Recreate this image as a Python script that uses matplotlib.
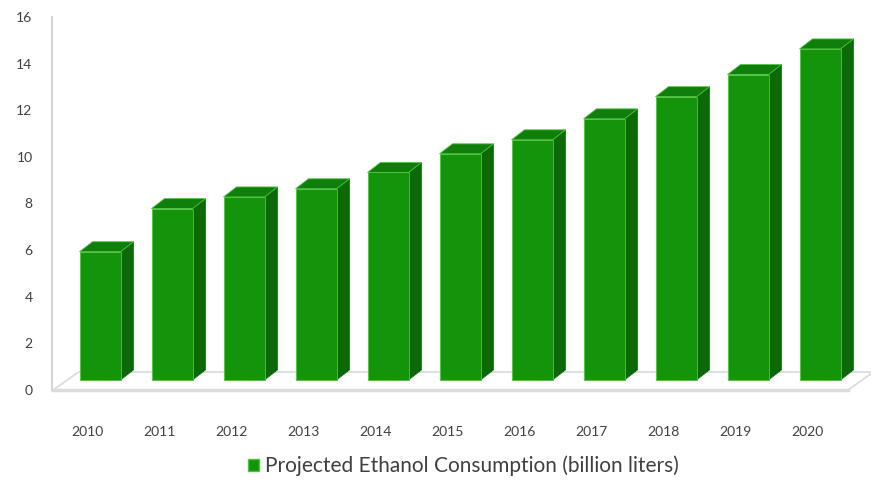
import matplotlib.pyplot as plt
from matplotlib.patches import Polygon, Patch

years = ['2010', '2011', '2012', '2013', '2014', '2015',
         '2016', '2017', '2018', '2019', '2020']
consumption = [5.5, 7.35, 7.85, 8.2, 8.9, 9.7, 10.3, 11.2, 12.15, 13.1, 14.2]
label = 'Projected Ethanol Consumption (billion liters)'

front_c = '#14940b'
side_c = '#0b6a06'
top_c = '#0f7e0a'
edge_c = '#4fc43f'
text_c = '#404040'

fig = plt.figure(figsize=(8.71, 4.9), dpi=100)
ax = fig.add_axes([52 / 871, 100 / 490, 819 / 871, 373 / 490])
ax.set_xlim(-0.667, 10.708)
ax.set_ylim(0, 16)

# fake 3d depth in data units
dx, dy = 0.18, 0.43
w = 0.57
base = 0.43

# floor slab
fx0, fx1 = -0.65, 10.39
fdx, fdy = 0.35, 0.77
floor = Polygon([(fx0, 0), (fx1, 0), (fx1 + fdx, fdy), (fx0 + fdx, fdy)],
                closed=True, facecolor='white', edgecolor='#d9d9d9',
                linewidth=1.2, clip_on=False, zorder=1)
ax.add_patch(floor)
ax.plot([fx0, fx1], [0, 0], color='#dcdcdc', lw=2.5, clip_on=False, zorder=1.5)

for i, v in enumerate(consumption):
    x0 = i - w / 2
    x1 = i + w / 2
    top = base + v
    side = Polygon([(x1, base), (x1 + dx, base + dy), (x1 + dx, top + dy), (x1, top)],
                   closed=True, facecolor=side_c, edgecolor=side_c, lw=0.5, zorder=3)
    lid = Polygon([(x0, top), (x0 + dx, top + dy), (x1 + dx, top + dy), (x1, top)],
                  closed=True, facecolor=top_c, edgecolor=edge_c, lw=0.6, zorder=3)
    ax.add_patch(side)
    ax.add_patch(lid)
    ax.bar(i, v, width=w, bottom=base, color=front_c, edgecolor=edge_c,
           linewidth=0.6, zorder=4)

ax.set_yticks(range(0, 17, 2))
ax.set_xticks([i - 0.17 for i in range(len(years))])
ax.set_xticklabels(years)
ax.tick_params(axis='both', length=0, labelsize=10, labelcolor=text_c,
               labelfontfamily='Lato')
ax.tick_params(axis='y', pad=14)
ax.tick_params(axis='x', pad=26)

for s in ['top', 'right', 'bottom']:
    ax.spines[s].set_visible(False)
ax.spines['left'].set_color('#d6d6d6')
ax.spines['left'].set_linewidth(1.5)

fig.legend(handles=[Patch(facecolor=front_c, edgecolor=edge_c, label=label)],
           loc='center', bbox_to_anchor=(0.532, 1 - 466 / 490), frameon=False,
           handlelength=0.55, handleheight=0.55, handletextpad=0.3,
           prop={'family': 'Lato', 'size': 15}, labelcolor=text_c)

fig.savefig('out.png', dpi=100)
